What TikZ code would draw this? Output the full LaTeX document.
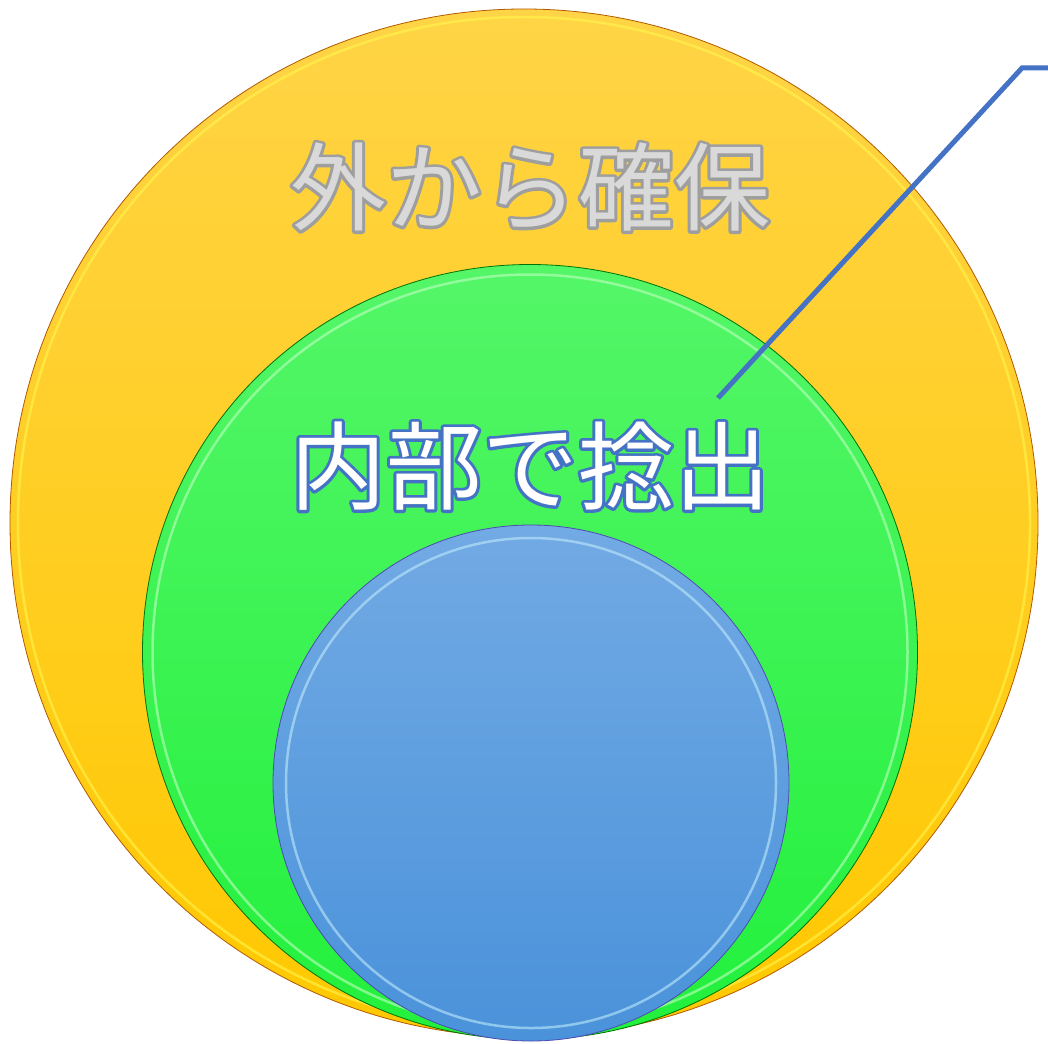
\documentclass[tikz,border=0pt]{standalone}
\usepackage{fontspec}
\newfontfamily\jpfont{Noto Sans CJK JP}

\definecolor{outertop}{RGB}{255,212,70}
\definecolor{outerbot}{RGB}{255,200,0}
\definecolor{greentop}{RGB}{84,246,104}
\definecolor{greenbot}{RGB}{34,240,60}
\definecolor{bluetop}{RGB}{114,170,228}
\definecolor{bluebot}{RGB}{74,146,218}
\definecolor{leaderblue}{RGB}{68,114,196}
\definecolor{textgray}{RGB}{217,217,217}
\definecolor{rimgray}{RGB}{158,158,158}

% stroke-only text (render mode 1), drawn under the filled copy
\newcommand{\rimstroke}[2]{\textcolor{#1}{\special{pdf:code 1 Tr 6 w 1 j}#2\special{pdf:code 0 Tr 1 w 0 j}}}

\begin{document}
\begin{tikzpicture}[x=1pt, y=-1pt]
    \tikzstyle{disc} = [circle, inner sep=0pt, outer sep=0pt, shading angle=0]
    \tikzstyle{rim} = [circle, inner sep=0pt, outer sep=0pt, draw, line width=2.5pt, opacity=0.6]
    \tikzstyle{label} = [font=\jpfont\fontsize{96}{96}\selectfont, inner sep=0pt]

    \useasboundingbox (0,0) rectangle (1048,1043);

    % Circles
    \node [disc, minimum size=1028pt, top color=outertop, bottom color=outerbot, draw=orange!70!black, line width=0.8pt] (outside) at (524,523) {};
    \node [rim, minimum size=1012pt, draw=yellow!70!white] (outside_rim) at (outside.center) {};
    \node [disc, minimum size=775pt, top color=greentop, bottom color=greenbot, draw=green!45!black, line width=0.8pt] (inside) at (530,652) {};
    \node [rim, minimum size=755pt, draw=green!25!white] (inside_rim) at (inside.center) {};
    \node [disc, minimum size=516pt, top color=bluetop, bottom color=bluebot, draw=blue!40!gray, line width=0.8pt] (core) at (531,783) {};
    \node [rim, minimum size=490pt, draw=cyan!25!white] (core_rim) at (core.center) {};

    % Labels (outline first, fill on top)
    \node [label] (outside_rimtxt) at (530,187) {\rimstroke{rimgray}{外から確保}};
    \node [label, text=textgray] (outside_txt) at (outside_rimtxt.center) {外から確保};
    \node [label] (inside_rimtxt) at (530,466) {\rimstroke{leaderblue}{内部で捻出}};
    \node [label, text=white] (inside_txt) at (inside_rimtxt.center) {内部で捻出};

    % Leader line
    \coordinate (lead_start) at (718,398);
    \coordinate (lead_bend) at (1022,68);
    \coordinate (lead_end) at (1048,68);
    \draw [leaderblue, line width=5pt] (lead_start) -- (lead_bend) -- (lead_end);
\end{tikzpicture}
\end{document}
